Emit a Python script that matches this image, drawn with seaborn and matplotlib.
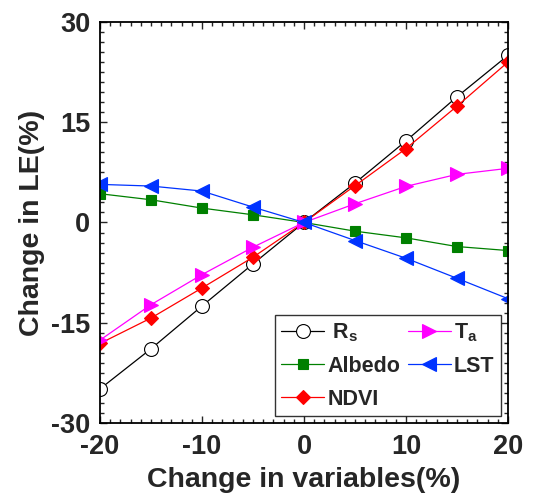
import numpy as np
import pandas as pd
import matplotlib
matplotlib.use("Agg")
import matplotlib.pyplot as plt
import seaborn as sns
from matplotlib.ticker import MultipleLocator

x_vals = [-20, -15, -10, -5, 0, 5, 10, 15, 20]
rs = [-24.9, -18.9, -12.5, -6.2, 0, 5.9, 12.2, 18.8, 25.0]
ta = [-17.6, -12.3, -7.8, -3.7, 0, 2.8, 5.4, 7.2, 8.1]
albedo = [4.3, 3.4, 2.15, 1.15, 0, -1.3, -2.3, -3.6, -4.2]
lst = [5.7, 5.45, 4.7, 2.3, 0, -2.7, -5.35, -8.35, -11.4]
ndvi = [-18.1, -14.3, -9.8, -5.2, 0, 5.5, 11.05, 17.4, 24.0]

sns.set_style("ticks")
plt.rcParams['font.family'] = ['Liberation Sans', 'DejaVu Sans']
plt.rcParams['font.weight'] = 'bold'
plt.rcParams['axes.unicode_minus'] = False
plt.rcParams['mathtext.fontset'] = 'custom'
plt.rcParams['mathtext.rm'] = 'Liberation Sans'
plt.rcParams['mathtext.bf'] = 'Liberation Sans:bold'

fig = plt.figure(figsize=(5.45, 4.95), dpi=100)
ax = fig.add_axes([0.1835, 0.1455, 0.7485, 0.8101])

series = [
    (" $\\mathbf{R}_\\mathrm{s}$", rs, "black", "o", "white", 10),
    ("Albedo", albedo, "#008000", "s", "#008000", 7),
    ("NDVI", ndvi, "#FF0000", "D", "#FF0000", 7),
    ("$\\mathbf{T}_\\mathrm{a}$", ta, "#FF00FF", ">", "#FF00FF", 10),
    ("LST", lst, "#0033FF", "<", "#0033FF", 10),
]
for label, vals, col, mk, fc, ms in series:
    sns.lineplot(x=x_vals, y=vals, ax=ax, color=col, marker=mk, markersize=ms,
                 markerfacecolor=fc, markeredgecolor=col if fc != "white" else "black",
                 markeredgewidth=0.8, linewidth=0.9, label=label)

ax.set_xlim(-20, 20)
ax.set_ylim(-30, 30)
ax.xaxis.set_major_locator(MultipleLocator(10))
ax.xaxis.set_minor_locator(MultipleLocator(1))
ax.yaxis.set_major_locator(MultipleLocator(15))
ax.yaxis.set_minor_locator(MultipleLocator(1.5))
ax.tick_params(which='both', direction='in', top=True, right=True, width=1)
ax.tick_params(which='major', length=5, labelsize=19.5)
ax.tick_params(axis='x', which='major', pad=8)
ax.tick_params(axis='y', which='major', pad=7)
ax.tick_params(which='minor', length=3)
for lab in ax.get_xticklabels() + ax.get_yticklabels():
    lab.set_fontweight('bold')
for s in ax.spines.values():
    s.set_linewidth(1.3)
    s.set_color('black')

ax.set_xlabel("Change in variables(%)", fontsize=20.5, fontweight='bold', labelpad=5)
ax.set_ylabel("Change in LE(%)", fontsize=20.5, fontweight='bold', labelpad=4)

leg = ax.legend(ncol=2, loc='lower right', bbox_to_anchor=(0.983, 0.017),
                prop={'size': 15.5, 'weight': 'bold'}, frameon=True, fancybox=False,
                edgecolor='black', handlelength=2.0, handletextpad=0.15,
                columnspacing=0.35, labelspacing=0.55, borderpad=0.3,
                borderaxespad=0.0)
leg.get_frame().set_linewidth(1.0)

fig.savefig("out.png", dpi=100)
